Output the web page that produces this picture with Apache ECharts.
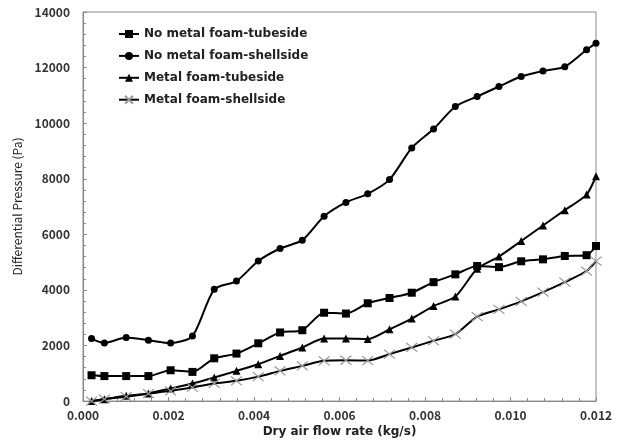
<!DOCTYPE html>
<html>
<head>
<meta charset="utf-8">
<script src="https://cdn.jsdelivr.net/npm/echarts@6/dist/echarts.min.js"></script>
<style>
  html, body { margin: 0; padding: 0; background: #fff; }
  #chart { width: 620px; height: 443px; }
</style>
</head>
<body>
<div id="chart"></div>
<script>
// air flow rate (kg/s), shared by all series
const flowRate = [0.0002, 0.0005, 0.00101, 0.00153, 0.00205, 0.00256, 0.00307, 0.00359, 0.0041, 0.00461,
  0.00513, 0.00564, 0.00615, 0.00666, 0.00717, 0.00769, 0.0082, 0.00871, 0.00922, 0.00973,
  0.01025, 0.01076, 0.01127, 0.01178, 0.012];

// differential pressure (Pa)
const noFoamTube = [930, 900, 900, 900, 1110, 1050, 1540, 1710, 2080, 2470,
  2550, 3180, 3150, 3520, 3710, 3900, 4280, 4560, 4860, 4820,
  5030, 5100, 5220, 5250, 5580];
const noFoamShell = [2250, 2090, 2290, 2190, 2090, 2340, 4020, 4320, 5040, 5490,
  5790, 6650, 7150, 7460, 7970, 9110, 9790, 10600, 10960, 11320,
  11680, 11880, 12030, 12640, 12880];
const foamTube = [0, 70, 190, 276, 456, 635, 851, 1088, 1328, 1626,
  1928, 2250, 2250, 2230, 2585, 2970, 3420, 3760, 4760, 5200,
  5760, 6320, 6870, 7430, 8090];
const foamShell = [0, 70, 160, 270, 370, 492, 635, 729, 880, 1088,
  1267, 1450, 1470, 1460, 1690, 1930, 2170, 2410, 3040, 3300,
  3590, 3920, 4280, 4680, 5040];

const seriesNames = ["No metal foam-tubeside", "No metal foam-shellside", "Metal foam-tubeside", "Metal foam-shellside"];

const font = "'Noto Sans CJK KR', 'Noto Sans', sans-serif";
const wideFont = "'DejaVu Sans', sans-serif";

function pairs(ys) {
  return flowRate.map((x, i) => [x, ys[i]]);
}

function makeSeries(name, ys, symbol, size, crossStyle) {
  return {
    name: name,
    type: "line",
    data: pairs(ys),
    smooth: 0.25,
    symbol: symbol,
    symbolSize: size,
    lineStyle: { color: "#000", width: 2 },
    itemStyle: crossStyle
      ? { color: "rgba(0,0,0,0)", borderColor: "#999", borderWidth: 1.2 }
      : { color: "#000" },
    z: crossStyle ? 3 : 2,
  };
}

var chart = echarts.init(document.getElementById("chart"));

chart.setOption({
  animation: false,
  textStyle: { fontFamily: font },
  grid: {
    left: 83,
    right: 24,
    top: 12,
    bottom: 41,
    show: true,
    borderColor: "#888",
    borderWidth: 1,
  },
  legend: {
    orient: "vertical",
    left: 113,
    top: 23,
    itemWidth: 20,
    itemHeight: 10,
    itemGap: 9.9,
    data: seriesNames,
    textStyle: { fontSize: 12, fontWeight: "bold", color: "#222", fontFamily: wideFont },
  },
  xAxis: {
    type: "value",
    min: 0,
    max: 0.012,
    interval: 0.002,
    name: "Dry air flow rate (kg/s)",
    nameLocation: "middle",
    nameGap: 24,
    nameTextStyle: { fontSize: 12, fontWeight: "bold", color: "#222", fontFamily: wideFont },
    axisLine: { lineStyle: { color: "#888" } },
    axisTick: { inside: true, length: 4, lineStyle: { color: "#888" } },
    minorTick: { show: true, splitNumber: 5, length: 3, lineStyle: { color: "#888" } },
    splitLine: { show: false },
    axisLabel: {
      margin: 8,
      fontSize: 12,
      fontWeight: "bold",
      color: "#333",
      formatter: (v) => v.toFixed(3),
    },
  },
  yAxis: {
    type: "value",
    min: 0,
    max: 14000,
    interval: 2000,
    name: "Differential Pressure (Pa)",
    nameLocation: "middle",
    nameGap: 56,
    nameTextStyle: { fontSize: 12, color: "#222" },
    axisLine: { show: true, lineStyle: { color: "#888" } },
    axisTick: { show: true, inside: true, length: 4, lineStyle: { color: "#888" } },
    minorTick: { show: true, splitNumber: 5, length: 3, lineStyle: { color: "#888" } },
    splitLine: { show: false },
    axisLabel: {
      margin: 13,
      fontSize: 12,
      fontWeight: "bold",
      color: "#333",
      formatter: (v) => String(v),
    },
  },
  series: [
    makeSeries(seriesNames[0], noFoamTube, "rect", 8),
    makeSeries(seriesNames[1], noFoamShell, "circle", 7),
    makeSeries(seriesNames[2], foamTube, "triangle", 8),
    makeSeries(seriesNames[3], foamShell, "path://M0,0L10,8M10,0L0,8", [11, 9], true),
  ],
});
</script>
</body>
</html>
